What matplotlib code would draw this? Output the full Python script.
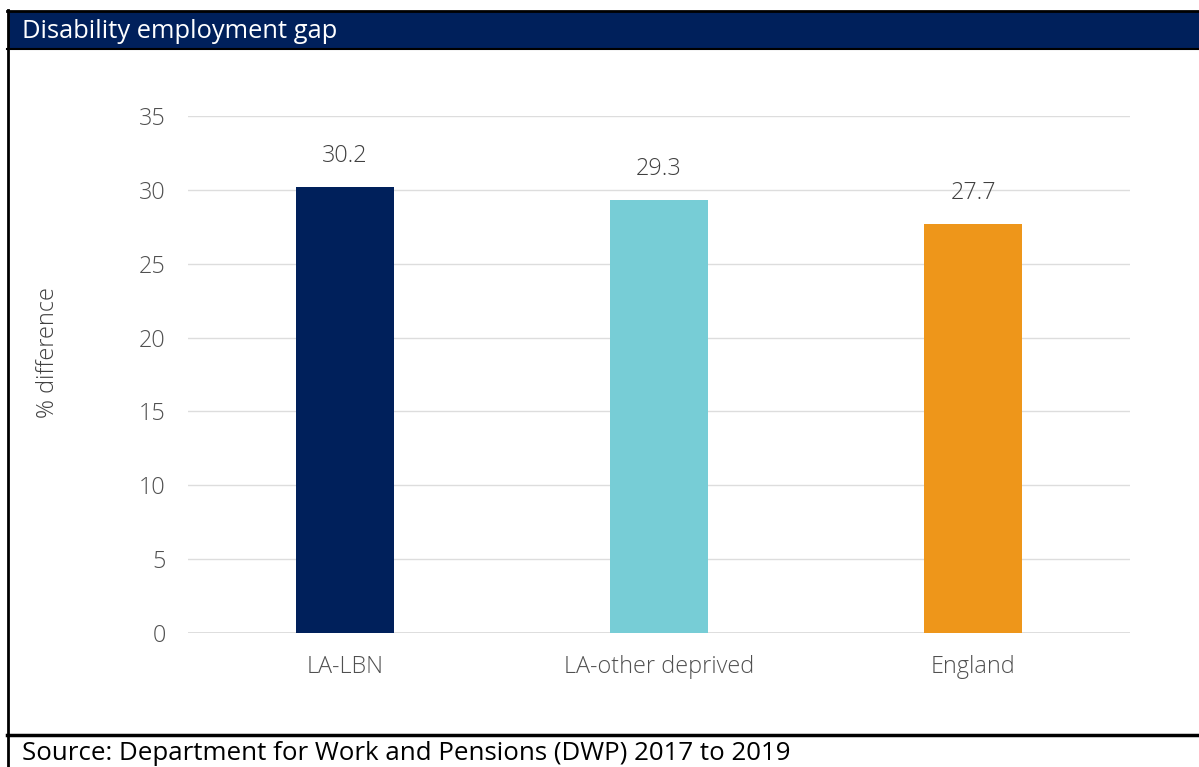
import matplotlib
matplotlib.use("Agg")
import matplotlib.pyplot as plt
from matplotlib.patches import Rectangle
from matplotlib.lines import Line2D

categories = ["LA-LBN", "LA-other deprived", "England"]
values = [30.2, 29.3, 27.7]
bar_colors = ["#00205B", "#77CDD6", "#EE961A"]
y_ticks = [0, 5, 10, 15, 20, 25, 30, 35]

title = "Disability employment gap"
source = "Source: Department for Work and Pensions (DWP) 2017 to 2019"
y_label = "% difference"

W, H = 1199, 767
fig = plt.figure(figsize=(W / 100, H / 100), dpi=100)
fig.patch.set_facecolor("white")

def fx(px):
    return px / W

def fy(py):
    return 1 - py / H

# Table frame: header band, borders, source row
fig.patches.append(Rectangle((fx(8), fy(48)), fx(W - 8), fy(12) - fy(48),
                             transform=fig.transFigure, facecolor="#00205B",
                             edgecolor="none", zorder=1))
fig.lines.append(Line2D([fx(7), 1], [fy(11), fy(11)], transform=fig.transFigure,
                        color="black", lw=2))
fig.lines.append(Line2D([fx(7), 1], [fy(48.5), fy(48.5)], transform=fig.transFigure,
                        color="black", lw=1.5))
fig.lines.append(Line2D([fx(8), fx(8)], [fy(10), 0], transform=fig.transFigure,
                        color="black", lw=2))
fig.lines.append(Line2D([fx(7), 1], [fy(735), fy(735)], transform=fig.transFigure,
                        color="black", lw=2.5))

fig.text(fx(22), fy(31), title, color="white", fontsize=18.4, family="Open Sans",
         va="center", ha="left")
fig.text(fx(22), fy(753), source, color="black", fontsize=18.6, family="Open Sans",
         va="center", ha="left")

ax = fig.add_axes([fx(188), fy(633), fx(1130) - fx(188), fy(116) - fy(633)])
x = range(len(categories))
bars = ax.bar(x, values, width=0.31, color=bar_colors, zorder=3)
for xi, v in zip(x, values):
    ax.text(xi, v + 1.3, f"{v:.1f}", ha="center", va="bottom",
            fontsize=16.8, color="#404040", family="Open Sans", weight="light")

ax.set_xlim(-0.5, 2.5)
ax.set_ylim(0, 35)
ax.set_yticks(y_ticks)
ax.set_xticks(list(x))
ax.set_xticklabels(categories)
ax.tick_params(axis="both", length=0, labelsize=16.8, labelcolor="#505050")
ax.tick_params(axis="y", pad=16)
ax.tick_params(axis="x", pad=16)
for lbl in ax.get_xticklabels() + ax.get_yticklabels():
    lbl.set_family("Open Sans")
    lbl.set_weight("light")
ax.yaxis.grid(True, color="#DDDDDD", lw=1, zorder=0)
for s in ax.spines.values():
    s.set_visible(False)
ax.axhline(0, color="#D9D9D9", lw=1.2, zorder=2)
ax.set_facecolor("none")

fig.text(fx(48), fy(353), y_label, rotation=90, fontsize=16.9, color="#404040",
         family="Open Sans", weight="light", ha="center", va="center")

fig.savefig("out.png", dpi=100)
